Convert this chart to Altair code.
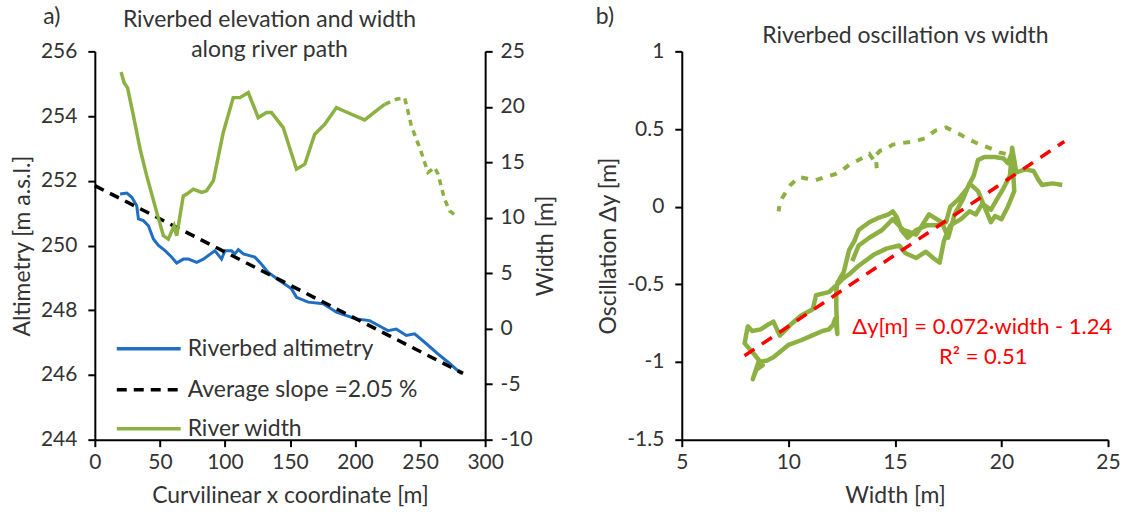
import altair as alt
import pandas as pd

FONT = "Lato"
GREEN = "#8DB043"
BLUE = "#1F6EC1"
RED = "#FF0000"
TXT = "#333333"

# ---------------- Panel a data ----------------
alt_x = [19.4, 24.6, 28.4, 32.2, 33.5, 37.3, 41.2, 45.0, 48.9, 54.0, 59.1, 62.9, 68.0, 71.9,
         78.3, 83.4, 92.3, 97.4, 100.0, 105.1, 107.6, 110.3, 114.1, 123.0, 126.8, 133.3,
         142.2, 151.2, 155.0, 164.0, 175.5, 185.7, 201.0, 211.2, 220.2, 225.3, 231.7,
         239.4, 245.8, 253.5, 263.7, 271.4, 281.6]
alt_y = [251.59, 251.62, 251.49, 251.23, 250.82, 250.77, 250.61, 250.20, 250.00, 249.84,
         249.64, 249.46, 249.58, 249.58, 249.48, 249.58, 249.84, 249.58, 249.84, 249.84,
         249.74, 249.87, 249.74, 249.64, 249.48, 249.17, 248.91, 248.66, 248.40, 248.25,
         248.20, 247.94, 247.73, 247.68, 247.48, 247.37, 247.42, 247.22, 247.27, 247.01,
         246.65, 246.40, 246.04]

slope_x = [0, 283]
slope_y = [251.85, 246.05]

width_x = [20.2, 22.5, 25.1, 29.7, 34.8, 39.9, 47.6, 52.7, 56.5, 60.9, 62.9, 68.0, 70.6,
           75.7, 82.1, 85.9, 91.1, 98.7, 106.4, 111.5, 117.9, 125.6, 132.0, 135.8, 144.8,
           155.0, 161.4, 169.0, 176.7, 185.7, 197.2, 207.4, 217.7, 222.8]
width_w = [23.14, 22.18, 21.73, 19.18, 16.18, 13.78, 10.49, 8.38, 8.08, 9.28, 8.38, 11.98,
           12.13, 12.58, 12.29, 12.43, 13.33, 17.69, 20.83, 20.83, 21.28, 19.03, 19.48, 19.48,
           18.13, 14.38, 14.83, 17.53, 18.43, 19.93, 19.33, 18.82, 19.78, 20.23]

width_dash_x = [222.8, 231.7, 238.1, 239.4, 243.3, 251.0, 256.1, 261.2, 263.8, 268.8, 272.7, 279.1]
width_dash_w = [20.23, 20.68, 20.83, 20.23, 18.28, 15.88, 14.08, 14.53, 13.93, 11.68, 10.63, 10.04]

legend_labels = ["Riverbed altimetry", "Average slope =2.05 %", "River width"]

# ---------------- Panel b data ----------------
osc_w = [22.85, 22.4, 21.9, 21.75, 21.5, 21.1, 20.7, 20.5, 20.4, 20.1, 19.8, 19.5, 19.1, 18.8,
         18.5, 18.1, 17.6, 17.3, 17.1, 16.8, 16.45, 16.0, 15.5, 15.2, 14.6, 14.0, 13.3, 12.9,
         12.55, 12.3, 11.9, 11.6, 11.3, 11.15, 10.6, 10.1, 9.9, 9.6, 9.3, 9.1, 8.7, 8.3, 8.1,
         8.0, 7.95, 8.2, 8.4, 8.8, 8.5, 8.33, 8.6, 9.0, 9.3, 10.0, 10.6, 11.1, 11.6, 11.9, 12.1,
         12.2, 12.3, 12.25, 12.25, 12.3, 12.6, 12.85, 13.1, 13.3, 13.8, 14.26, 14.7, 14.9, 15.1,
         15.3, 15.6, 16.0, 16.5, 17.0, 17.4, 17.6, 18.0, 18.4, 18.7, 18.9, 19.2, 19.7, 20.1,
         20.3, 20.5, 20.6, 20.3, 20.0, 19.7, 19.5, 19.2, 18.9, 18.5, 18.2, 17.8, 17.5, 17.2,
         16.6, 16.0, 15.4, 14.9, 14.4, 13.8, 13.3, 13.0]
osc_dy = [0.14, 0.15, 0.14, 0.17, 0.23, 0.24, 0.22, 0.38, 0.20, 0.12, 0.05, -0.02, 0.02, -0.05,
          -0.03, -0.08, -0.12, -0.22, -0.36, -0.33, -0.29, -0.33, -0.30, -0.25, -0.27, -0.31,
          -0.38, -0.43, -0.465, -0.50, -0.55, -0.56, -0.57, -0.66, -0.70, -0.76, -0.79, -0.83,
          -0.74, -0.755, -0.79, -0.80, -0.77, -0.84, -0.88, -0.92, -0.95, -1.02, -1.05, -1.11,
          -1.00, -0.99, -0.97, -0.89, -0.86, -0.83, -0.80, -0.79, -0.76, -0.72, -0.82, -0.65,
          -0.55, -0.49, -0.42, -0.28, -0.22, -0.15, -0.10, -0.07, -0.05, -0.03, -0.07, -0.15,
          -0.20, -0.15, -0.12, -0.12, -0.10, 0.00, 0.05, 0.12, 0.20, 0.30, 0.32, 0.32, 0.31,
          0.28, 0.35, 0.10, 0.00, -0.08, -0.06, -0.10, 0.00, 0.10, 0.15, 0.05, -0.05, -0.20,
          -0.10, -0.05, -0.18, -0.15, -0.08, -0.15, -0.20, -0.25, -0.35]

osc_dash_w = [20.2, 19.9, 19.6, 19.0, 18.5, 18.0, 17.4, 16.9, 16.4, 15.9, 15.35, 14.9, 14.56,
              14.3, 14.1, 14.15, 14.0, 13.8, 13.3, 12.85, 12.5, 12.2, 11.7, 11.28, 10.9, 10.5,
              10.1, 9.73, 9.6, 9.54]
osc_dash_dy = [0.34, 0.35, 0.37, 0.40, 0.43, 0.47, 0.51, 0.49, 0.44, 0.42, 0.41, 0.40, 0.37,
               0.36, 0.33, 0.25, 0.30, 0.34, 0.30, 0.27, 0.23, 0.21, 0.19, 0.17, 0.18, 0.19,
               0.14, 0.06, 0.02, -0.03]

fit_w = [7.94, 22.95]
fit_dy = [-0.96, 0.42]

# ---------------- frames ----------------
df_alt = pd.DataFrame({"x": alt_x, "y": alt_y})
df_slope = pd.DataFrame({"x": slope_x, "y": slope_y})
df_w = pd.DataFrame({"x": width_x, "w": width_w})
df_wd = pd.DataFrame({"x": width_dash_x, "w": width_dash_w})
df_osc = pd.DataFrame({"w": osc_w, "dy": osc_dy, "i": range(len(osc_w))})
df_oscd = pd.DataFrame({"w": osc_dash_w, "dy": osc_dash_dy, "i": range(len(osc_dash_w))})
df_fit = pd.DataFrame({"w": fit_w, "dy": fit_dy})
one = pd.DataFrame({"k": [0]})

W_A, W_B, H = 391, 427, 389
TFS = 23  # text font size (titles, legend, axis titles)

xa_scale = alt.Scale(domain=[0, 300], nice=False)
yl_scale = alt.Scale(domain=[244, 256], nice=False, zero=False)
yr_scale = alt.Scale(domain=[-10, 25], nice=False, zero=False)

x_axis_a = alt.Axis(values=list(range(0, 301, 50)), title="Curvilinear x coordinate [m]",
                    labelPadding=5, titlePadding=12)

blue = alt.Chart(df_alt).mark_line(color=BLUE, strokeWidth=3).encode(
    x=alt.X("x:Q", scale=xa_scale, axis=x_axis_a),
    y=alt.Y("y:Q", scale=yl_scale,
            axis=alt.Axis(values=list(range(244, 257, 2)), title="Altimetry [m a.s.l.]",
                          titlePadding=6, labelPadding=11)),
)
black = alt.Chart(df_slope).mark_line(color="black", strokeWidth=3.5, strokeDash=[10, 7]).encode(
    x=alt.X("x:Q", scale=xa_scale),
    y=alt.Y("y:Q", scale=yl_scale),
)

# manual legend
leg_rows = [298, 339, 378]
leg_styles = [(BLUE, [1, 0]), ("black", [10, 7]), (GREEN, [1, 0])]
legend_layers = []
for (c, d), ry, lab in zip(leg_styles, leg_rows, legend_labels):
    legend_layers.append(alt.Chart(one).mark_rule(color=c, strokeWidth=3.5, strokeDash=d).encode(
        x=alt.value(22), x2=alt.value(86), y=alt.value(ry)))
    legend_layers.append(alt.Chart(one).mark_text(align="left", baseline="middle", font=FONT,
                                                  fontSize=TFS, color=TXT, text=lab).encode(
        x=alt.value(93), y=alt.value(ry)))

txt_a = alt.Chart(one).mark_text(align="center", baseline="middle", font=FONT, fontSize=TFS,
                                 color=TXT, text="a)").encode(x=alt.value(-43), y=alt.value(-34))
title_a1 = alt.Chart(one).mark_text(align="center", baseline="middle", font=FONT, fontSize=TFS,
                                    color=TXT, text="Riverbed elevation and width").encode(
    x=alt.value(175), y=alt.value(-31))
title_a2 = alt.Chart(one).mark_text(align="center", baseline="middle", font=FONT, fontSize=TFS,
                                    color=TXT, text="along river path").encode(
    x=alt.value(175), y=alt.value(-1))

green_a = alt.Chart(df_w).mark_line(color=GREEN, strokeWidth=3.5).encode(
    x=alt.X("x:Q", scale=xa_scale),
    y=alt.Y("w:Q", scale=yr_scale,
            axis=alt.Axis(orient="right", values=list(range(-10, 26, 5)), title="Width [m]",
                          titleAngle=270, titleBaseline="top", labelExpr="datum.value + ''",
                          titlePadding=2, labelPadding=8)),
)
green_ad = alt.Chart(df_wd).mark_line(color=GREEN, strokeWidth=3.5, strokeDash=[6, 5]).encode(
    x=alt.X("x:Q", scale=xa_scale),
    y=alt.Y("w:Q", scale=yr_scale),
)

left_layer = alt.layer(blue, black, *legend_layers, txt_a, title_a1, title_a2)
right_layer = alt.layer(green_a, green_ad)
panel_a = alt.layer(left_layer, right_layer).resolve_scale(y="independent").properties(
    width=W_A, height=H)

# ---------------- Panel b ----------------
xb_scale = alt.Scale(domain=[5, 25], nice=False, zero=False)
yb_scale = alt.Scale(domain=[-1.5, 1], nice=False, zero=False)

osc = alt.Chart(df_osc).mark_line(color=GREEN, strokeWidth=4.5, strokeJoin="round").encode(
    x=alt.X("w:Q", scale=xb_scale,
            axis=alt.Axis(values=[5, 10, 15, 20, 25], title="Width [m]", labelPadding=5,
                          titlePadding=12)),
    y=alt.Y("dy:Q", scale=yb_scale,
            axis=alt.Axis(values=[-1.5, -1, -0.5, 0, 0.5, 1], title="Oscillation Δy  [m]",
                          labelExpr="datum.value + ''", titlePadding=6, labelPadding=11)),
    order=alt.Order("i:Q"),
)
osc_d = alt.Chart(df_oscd).mark_line(color=GREEN, strokeWidth=4, strokeDash=[7, 8]).encode(
    x=alt.X("w:Q", scale=xb_scale),
    y=alt.Y("dy:Q", scale=yb_scale),
    order=alt.Order("i:Q"),
)
fit = alt.Chart(df_fit).mark_line(color=RED, strokeWidth=3.5, strokeDash=[12, 9]).encode(
    x=alt.X("w:Q", scale=xb_scale),
    y=alt.Y("dy:Q", scale=yb_scale),
)
eq1 = alt.Chart(one).mark_text(align="center", baseline="middle", font=FONT, fontSize=22,
                               color=RED, text="Δy[m] = 0.072·width - 1.24").encode(
    x=alt.value(301), y=alt.value(276))
eq2 = alt.Chart(one).mark_text(align="center", baseline="middle", font=FONT, fontSize=22,
                               color=RED, text="R² = 0.51").encode(
    x=alt.value(302), y=alt.value(306))
txt_b = alt.Chart(one).mark_text(align="center", baseline="middle", font=FONT, fontSize=TFS,
                                 color=TXT, text="b)").encode(x=alt.value(-77), y=alt.value(-34))
title_b = alt.Chart(one).mark_text(align="center", baseline="middle", font=FONT, fontSize=TFS,
                                   color=TXT, text="Riverbed oscillation vs width").encode(
    x=alt.value(224), y=alt.value(-15))

panel_b = alt.layer(osc, osc_d, fit, eq1, eq2, txt_b, title_b).properties(width=W_B, height=H)

chart = alt.hconcat(panel_a, panel_b, spacing=37).properties(
    padding={"left": 11, "top": 6, "right": 0, "bottom": 0},
    background="white",
).configure_axis(
    domainColor="black", domainWidth=2, tickColor="black", tickWidth=2, tickSize=7,
    labelFont=FONT, labelFontSize=21, labelColor=TXT, labelFlush=False,
    titleFont=FONT, titleFontSize=TFS, titleFontWeight="normal", titleColor=TXT,
    grid=False,
).configure_view(stroke=None)

chart.save("out.html", embed_options={"renderer": "svg", "actions": False})
